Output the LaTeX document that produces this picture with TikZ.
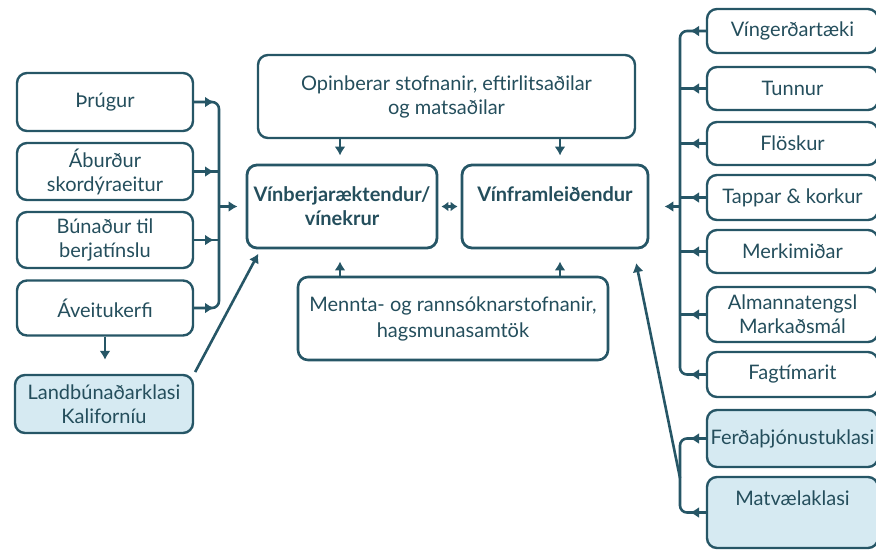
\documentclass[tikz,border=0pt]{standalone}
\usepackage{fontspec}
\setmainfont{Lato}
\usetikzlibrary{arrows.meta}
\definecolor{teal}{RGB}{38,86,102}
\definecolor{txt}{RGB}{36,78,92}
\definecolor{lblue}{RGB}{214,234,242}
\tikzset{
  box/.style={draw=teal, line width=2.4pt, rounded corners=10pt, align=center, text=txt, font=\fontsize{20}{24}\selectfont, inner sep=0pt},
  mainbox/.style={box, line width=2.8pt, font=\bfseries\fontsize{20}{24}\selectfont},
  fillbox/.style={box, fill=lblue},
  conn/.style={draw=teal, line width=2.6pt},
  arr/.style={conn, -{Latex[length=9pt,width=11pt]}},
  darr/.style={conn, {Latex[length=7pt,width=10pt]}-{Latex[length=7pt,width=10pt]}},
}
\begin{document}
\begin{tikzpicture}[x=1pt,y=-1pt]
\useasboundingbox (0,0) rectangle (876,550);
\clip (0,0) rectangle (876,550);
% left column
\node[box, minimum width=176pt, minimum height=58pt] (t1) at (105,102) {Þrúgur};
\node[box, minimum width=176pt, minimum height=57pt] (t2) at (105,171.5) {Áburður\\skordýraeitur};
\node[box, minimum width=176pt, minimum height=56pt] (t3) at (105,240) {Búnaður til\\berjatínslu};
\node[box, minimum width=176pt, minimum height=55pt] (t4) at (105,308) {Áveitukerfi};
\node[fillbox, minimum width=178pt, minimum height=58pt] (lk) at (104,404) {Landbúnaðarklasi\\Kaliforníu};
% centre
\node[box, minimum width=377pt, minimum height=83pt] (op) at (446.5,96.5) {Opinberar stofnanir, eftirlitsaðilar\\og matsaðilar};
\node[mainbox, minimum width=190pt, minimum height=83pt] (vb) at (342,206.5) {Vínberjaræktendur/\\vínekrur};
\node[mainbox, minimum width=186pt, minimum height=83pt] (vf) at (555,206.5) {Vínframleiðendur\\\phantom{x}};
\node[box, line width=2.6pt, minimum width=310pt, minimum height=83pt, font=\fontsize{20}{26}\selectfont] (mr) at (453,318.5) {Mennta- og rannsóknarstofnanir,\\hagsmunasamtök};
% right column
\node[box, minimum width=171pt, minimum height=44pt] (r1) at (792.5,31) {Víngerðartæki};
\node[box, minimum width=171pt, minimum height=43pt] (r2) at (792.5,88.5) {Tunnur};
\node[box, minimum width=171pt, minimum height=43pt] (r3) at (792.5,143.5) {Flöskur};
\node[box, minimum width=171pt, minimum height=45pt] (r4) at (792.5,197.5) {Tappar \& korkur};
\node[box, minimum width=171pt, minimum height=43pt] (r5) at (792.5,251.5) {Merkimiðar};
\node[box, minimum width=171pt, minimum height=55pt] (r6) at (792.5,314.5) {Almannatengsl\\Markaðsmál};
\node[box, minimum width=171pt, minimum height=45pt] (r7) at (792.5,374.5) {Fagtímarit};
\node[fillbox, minimum width=171pt, minimum height=57pt] (r8) at (792.5,438.5) {Ferðaþjónustuklasi};
\node[fillbox, minimum width=171pt, minimum height=71pt] (r9) at (792.5,512.5) {Matvælaklasi\\[4pt]};
% helper coordinates
\coordinate (lx) at (219,0);
\coordinate (rx) at (680,0);
\coordinate (rd) at (680,478);
% left bracket
\draw[conn, rounded corners=7pt] (t1.east) -- (t1.east -| lx) -- (t4.east -| lx) -- (t4.east);
\draw[conn] (t2.east) -- (t2.east -| lx);
\draw[conn] (t3.east) -- (t3.east -| lx);
\foreach \n in {t1,t2,t3,t4} {\draw[arr, shorten >=5pt] (\n.east) -- (\n.east -| lx);}
\draw[arr, shorten >=8pt] (vb.west -| lx) -- (vb.west);
\draw[arr, shorten >=14pt] (t4.south) -- (t4.south |- lk.north);
\draw[arr, shorten <=2pt, shorten >=5pt] (lk.north east) -- ([xshift=15pt]vb.south west);
% centre arrows
\draw[arr, shorten >=8pt] ([xshift=-106.5pt]op.south) -- ([xshift=-106.5pt]op.south |- vb.north);
\draw[arr, shorten >=8pt] ([xshift=113.5pt]op.south) -- ([xshift=113.5pt]op.south |- vf.north);
\draw[arr, shorten >=12pt] ([xshift=-113pt]mr.north) -- ([xshift=-113pt]mr.north |- vb.south);
\draw[arr, shorten >=12pt] ([xshift=107pt]mr.north) -- ([xshift=107pt]mr.north |- vf.south);
\draw[darr, shorten <=3pt, shorten >=3pt] (vb.east) -- (vf.east -| vf.west);
% right bracket
\draw[conn, rounded corners=7pt] (r1.west) -- (r1.west -| rx) -- (r7.west -| rx) -- (r7.west);
\foreach \n in {r2,r3,r4,r5,r6} {\draw[conn] (\n.west) -- (\n.west -| rx);}
\foreach \n in {r1,r2,r3,r4,r5,r6,r7} {\draw[arr, shorten >=10pt] (\n.west) -- (\n.west -| rx);}
\draw[arr, shorten >=15pt] (rx |- vf.east) -- (vf.east);
\draw[conn, rounded corners=7pt] (r8.west) -- (r8.west -| rx) -- (r9.west -| rx) -- (r9.west);
\foreach \n in {r8,r9} {\draw[arr, shorten >=10pt] (\n.west) -- (\n.west -| rx);}
\draw[arr, shorten >=14pt] (rd) -- ([xshift=-16pt]vf.south east);
\end{tikzpicture}
\end{document}
